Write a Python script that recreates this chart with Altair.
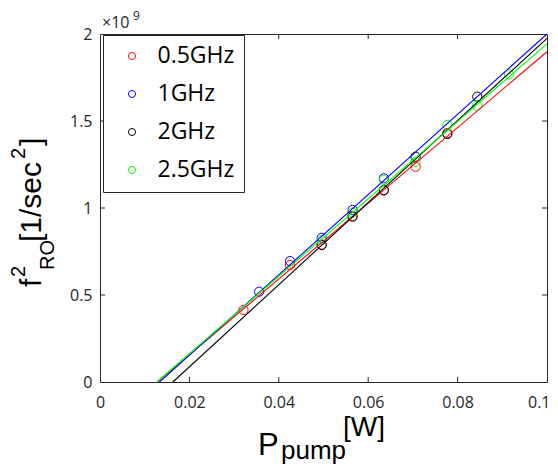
import altair as alt
import pandas as pd

# ---- data (f_RO^2 in units of 1e9 1/sec^2, P_pump in W) ----
series_names = ["0.5GHz", "1GHz", "2GHz", "2.5GHz"]
series_colors = ["#ff0000", "#0000ff", "#000000", "#00ff00"]

P_05 = [0.0321, 0.0425, 0.0496, 0.0565, 0.0635, 0.0706, 0.0777]
F_05 = [0.414, 0.672, 0.790, 0.954, 1.100, 1.237, 1.430]
P_1 = [0.0356, 0.0425, 0.0496, 0.0565, 0.0635]
F_1 = [0.519, 0.695, 0.829, 0.989, 1.171]
P_2 = [0.0496, 0.0565, 0.0635, 0.0706, 0.0777, 0.0844]
F_2 = [0.787, 0.950, 1.103, 1.295, 1.425, 1.640]
P_25 = [0.0496, 0.0565, 0.0635, 0.0706, 0.0777, 0.0844, 0.0915]
F_25 = [0.816, 0.973, 1.161, 1.266, 1.477, 1.588, 1.768]

# fitted lines: start (x-intercept) and end (right edge)
fit_P0 = [0.0128, 0.0133, 0.0163, 0.0127]
fit_F0 = [0.0, 0.0, 0.0, 0.0]
fit_P1 = [0.1, 0.1, 0.1, 0.1]
fit_F1 = [1.898, 2.000, 1.975, 1.943]

x_ticks = [0, 0.02, 0.04, 0.06, 0.08, 0.1]
y_ticks = [0, 0.5, 1, 1.5, 2]

W, H = 447, 348

pts_rows = []
for name, ps, fs in zip(series_names, [P_05, P_1, P_2, P_25], [F_05, F_1, F_2, F_25]):
    for p, f in zip(ps, fs):
        pts_rows.append({"P": p, "f": f, "s": name})
pts = pd.DataFrame(pts_rows)

line_rows = []
for name, a, b, c, d in zip(series_names, fit_P0, fit_F0, fit_P1, fit_F1):
    line_rows.append({"P": a, "f": b, "s": name})
    line_rows.append({"P": c, "f": d, "s": name})
lines = pd.DataFrame(line_rows)

xscale = alt.Scale(domain=[0, 0.1], nice=False, zero=False)
yscale = alt.Scale(domain=[0, 2], nice=False, zero=False)
cscale = alt.Scale(domain=series_names, range=series_colors)

LBL_FONT = "Open Sans"
TTL_FONT = "Liberation Sans"
AX_COL = "#262626"

xaxis = alt.Axis(values=x_ticks, format="~g", labelFont=LBL_FONT, labelFontSize=16,
                 labelColor=AX_COL, ticks=False, domain=False, grid=False, title=None,
                 labelPadding=12, labelFlush=False,
                 labelAlign=alt.ExprRef(expr="datum.value >= 0.1 ? 'right' : 'center'"),
                 labelOffset=alt.ExprRef(expr="datum.value >= 0.1 ? 3 : 0"))
yaxis = alt.Axis(values=y_ticks, format="~g", labelFont=LBL_FONT, labelFontSize=16,
                 labelColor=AX_COL, ticks=False, domain=False, grid=False, title=None,
                 labelPadding=8, labelFlush=False)

points = alt.Chart(pts).mark_point(shape="circle", filled=False, size=85, strokeWidth=1, opacity=1).encode(
    x=alt.X("P:Q", scale=xscale, axis=xaxis),
    y=alt.Y("f:Q", scale=yscale, axis=yaxis),
    color=alt.Color("s:N", scale=cscale, sort=series_names, legend=alt.Legend(
        title=None, orient="none", legendX=3, legendY=1,
        fillColor="white", strokeColor=AX_COL, padding=9.5, cornerRadius=0,
        symbolType="circle", symbolSize=50, symbolStrokeWidth=1, symbolOffset=8,
        labelOffset=14, labelFont=LBL_FONT, labelFontSize=23, labelColor="black",
        rowPadding=14, labelLimit=300)),
)

fitlines = alt.Chart(lines).mark_line(strokeWidth=1.1).encode(
    x=alt.X("P:Q", scale=xscale),
    y=alt.Y("f:Q", scale=yscale),
    color=alt.Color("s:N", scale=cscale, legend=None),
    detail="s:N",
)

# inward ticks on all four sides
xt = pd.DataFrame({"P": x_ticks[1:-1]})
yt = pd.DataFrame({"f": y_ticks[1:-1]})
tick_bottom = alt.Chart(xt).mark_rule(color=AX_COL).encode(
    x=alt.X("P:Q", scale=xscale), y=alt.value(H), y2=alt.value(H - 5))
tick_top = alt.Chart(xt).mark_rule(color=AX_COL).encode(
    x=alt.X("P:Q", scale=xscale), y=alt.value(0), y2=alt.value(5))
tick_left = alt.Chart(yt).mark_rule(color=AX_COL).encode(
    y=alt.Y("f:Q", scale=yscale), x=alt.value(0), x2=alt.value(5))
tick_right = alt.Chart(yt).mark_rule(color=AX_COL).encode(
    y=alt.Y("f:Q", scale=yscale), x=alt.value(W), x2=alt.value(W - 5))


def txt(t, x, y, size, font=TTL_FONT, angle=0, color="black", align="left", baseline="alphabetic"):
    return alt.Chart(pd.DataFrame({"t": [t]})).mark_text(
        font=font, fontSize=size, angle=angle, color=color, align=align, baseline=baseline
    ).encode(text="t:N", x=alt.value(x), y=alt.value(y))


annots = [
    # x10^9 multiplier
    txt("×10", 2, -6, 16, font=LBL_FONT, color=AX_COL),
    txt("9", 33, -14, 12, font=LBL_FONT, color=AX_COL),
    # x title: P_pump [W]
    txt("P", 158, 421, 31),
    txt("pump", 181, 425, 26),
    txt("[W]", 243, 402, 28),
    # y title: f^2_RO [1/sec^2] (rotated)
    txt("f", -59, 253, 30, angle=270),
    txt("2", -75, 243, 20, angle=270),
    txt("RO", -46, 236, 20, angle=270),
    txt("[1/sec", -59, 208, 30, angle=270),
    txt("2", -75, 125, 20, angle=270),
    txt("]", -59, 112, 30, angle=270),
]

chart = alt.layer(points, fitlines, tick_bottom, tick_top, tick_left, tick_right, *annots).resolve_legend(
    color="independent"
).properties(
    width=W, height=H,
    autosize=alt.AutoSizeParams(type="none"),
    padding={"left": 92, "top": 26, "right": 3, "bottom": 84},
).configure_view(stroke=AX_COL, strokeWidth=1).configure_legend(strokeWidth=1)

chart.save("out.html", embed_options={"renderer": "svg", "actions": False})
